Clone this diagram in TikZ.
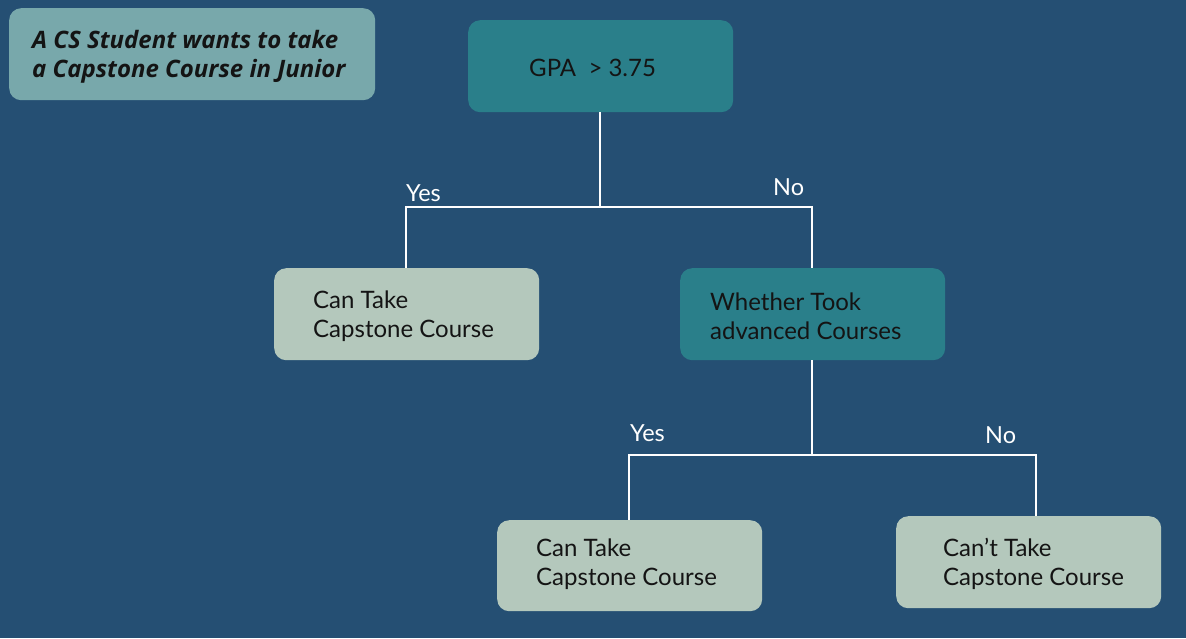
\documentclass[tikz,border=0pt]{standalone}
\usepackage{fontspec}
\setmainfont{Lato}
\newfontfamily\titlefont{Open Sans}
\definecolor{bg}{HTML}{254F73}
\definecolor{teal}{HTML}{2A7F8A}
\definecolor{pale}{HTML}{B4C8BC}
\definecolor{titlec}{HTML}{78A8AB}
\definecolor{ink}{HTML}{141414}
\tikzset{
  box/.style={rounded corners=12pt, draw=none, inner sep=0pt, anchor=north west},
  boxtext/.style={anchor=west, align=left, text=ink, font=\fontsize{24}{29}\selectfont, inner sep=0pt},
  lbl/.style={text=white, font=\fontsize{23.5}{26}\selectfont, inner sep=0pt, anchor=west},
  wire/.style={draw=white, line width=2pt}
}
\begin{document}
\begin{tikzpicture}[x=1pt,y=-1pt]
\fill[bg] (0,0) rectangle (1186,638);
\useasboundingbox (0,0) rectangle (1186,638);
% title
\node[box, fill=titlec, minimum width=366pt, minimum height=92pt] (title) at (9,8) {};
\node[boxtext, font=\fontsize{24}{29}\titlefont\bfseries\itshape] (titletxt) at (32,57) {A CS Student wants to take\\a Capstone Course in Junior};
% root
\node[box, fill=teal, minimum width=265pt, minimum height=92pt] (root) at (468,20) {};
\node[boxtext] (roottxt) at (529,68) {GPA\ \ > 3.75};
% level 1
\node[box, fill=pale, minimum width=265pt, minimum height=92pt] (can1) at (274,268) {};
\node[boxtext] (can1txt) at (313,316) {Can Take\\Capstone Course};
\node[box, fill=teal, minimum width=265pt, minimum height=92pt] (adv) at (680,268) {};
\node[boxtext] (advtxt) at (710,316) {Whether Took\\advanced Courses};
% level 2
\node[box, fill=pale, minimum width=265pt, minimum height=91pt] (can2) at (497,520) {};
\node[boxtext] (can2txt) at (536,564) {Can Take\\Capstone Course};
\node[box, fill=pale, minimum width=265pt, minimum height=92pt] (cant) at (896,516) {};
\node[boxtext] (canttxt) at (943,564) {Can’t Take\\Capstone Course};
% connectors
\coordinate (j1) at (600,207);
\coordinate (l1) at (406,207);
\coordinate (r1) at (812,207);
\draw[wire] (root.south -| j1) -- (j1);
\draw[wire] (can1.north -| l1) -- (l1) -- (r1) -- (adv.north -| r1);
\coordinate (j2) at (812,455);
\coordinate (l2) at (629,455);
\coordinate (r2) at (1036,455);
\draw[wire] (adv.south -| j2) -- (j2);
\draw[wire] (can2.north -| l2) -- (l2) -- (r2) -- (cant.north -| r2);
% labels
\node[lbl] (yes1) at (406,193) {Yes};
\node[lbl] (no1) at (773,187) {No};
\node[lbl] (yes2) at (630,433) {Yes};
\node[lbl] (no2) at (985,435) {No};
\end{tikzpicture}
\end{document}
